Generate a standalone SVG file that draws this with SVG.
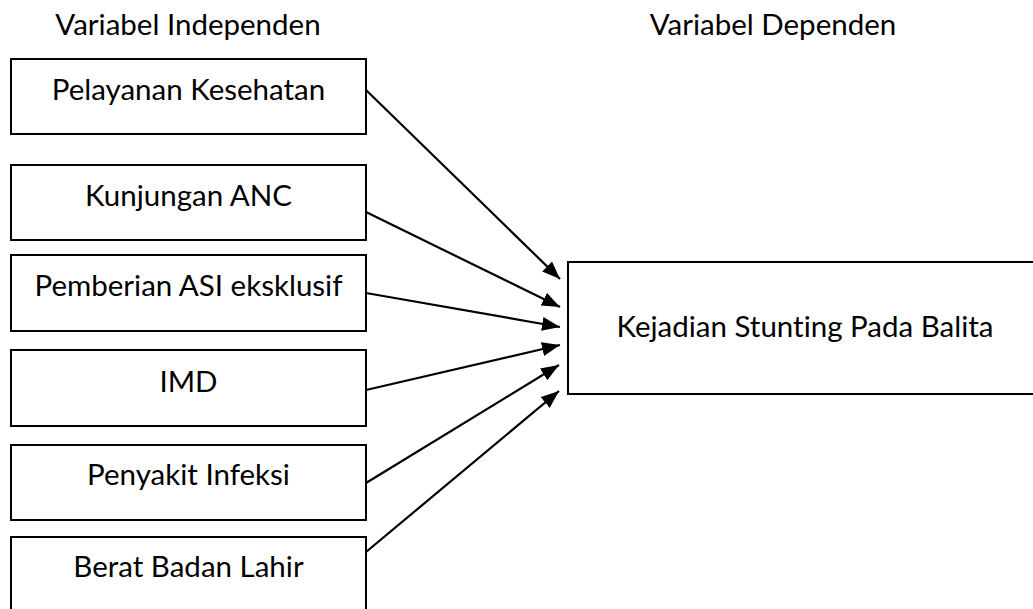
<svg xmlns="http://www.w3.org/2000/svg" width="1033" height="609" viewBox="0 0 1033 609">
<style>
  .box { fill: #ffffff; stroke: #000000; stroke-width: 2; }
  .lbl { font-family: Lato, "Open Sans", "Liberation Sans", sans-serif; font-size: 29.5px; fill: #000000; text-anchor: middle; font-variant-ligatures: none; }
  .edge { stroke: #000000; stroke-width: 2.2; fill: none; marker-end: url(#arrow); }
</style>
<defs>
  <marker id="arrow" markerUnits="userSpaceOnUse" markerWidth="19" markerHeight="15" refX="18" refY="7" orient="auto">
    <path d="M0,0 L18,7 L0,14 Z" fill="#000000"/>
  </marker>
</defs>
<rect width="1033" height="609" fill="#ffffff"/>
<text class="lbl" x="188" y="35">Variabel Independen</text>
<text class="lbl" x="773" y="35">Variabel Dependen</text>
<g id="node-pelayanan">
  <rect class="box" x="11" y="59" width="355" height="75"/>
  <text class="lbl" x="188.5" y="100">Pelayanan Kesehatan</text>
</g>
<g id="node-anc">
  <rect class="box" x="11" y="165" width="355" height="75"/>
  <text class="lbl" x="188.5" y="206">Kunjungan ANC</text>
</g>
<g id="node-asi">
  <rect class="box" x="11" y="255" width="355" height="76"/>
  <text class="lbl" x="188.5" y="296">Pemberian ASI eksklusif</text>
</g>
<g id="node-imd">
  <rect class="box" x="11" y="350" width="355" height="76"/>
  <text class="lbl" x="188.5" y="392">IMD</text>
</g>
<g id="node-infeksi">
  <rect class="box" x="11" y="445" width="355" height="75"/>
  <text class="lbl" x="188.5" y="485">Penyakit Infeksi</text>
</g>
<g id="node-bbl">
  <rect class="box" x="11" y="537" width="355" height="80"/>
  <text class="lbl" x="188.5" y="577">Berat Badan Lahir</text>
</g>
<g id="node-stunting">
  <rect class="box" x="568" y="262" width="468" height="132"/>
  <text class="lbl" x="805" y="337">Kejadian Stunting Pada Balita</text>
</g>
<g id="connectors">
  <line class="edge" x1="366" y1="90" x2="560" y2="279"/>
  <line class="edge" x1="366" y1="212" x2="560" y2="307"/>
  <line class="edge" x1="366" y1="293" x2="560" y2="327"/>
  <line class="edge" x1="366" y1="390" x2="560" y2="345"/>
  <line class="edge" x1="366" y1="483" x2="559" y2="365"/>
  <line class="edge" x1="366" y1="552" x2="559" y2="391"/>
</g>
</svg>
